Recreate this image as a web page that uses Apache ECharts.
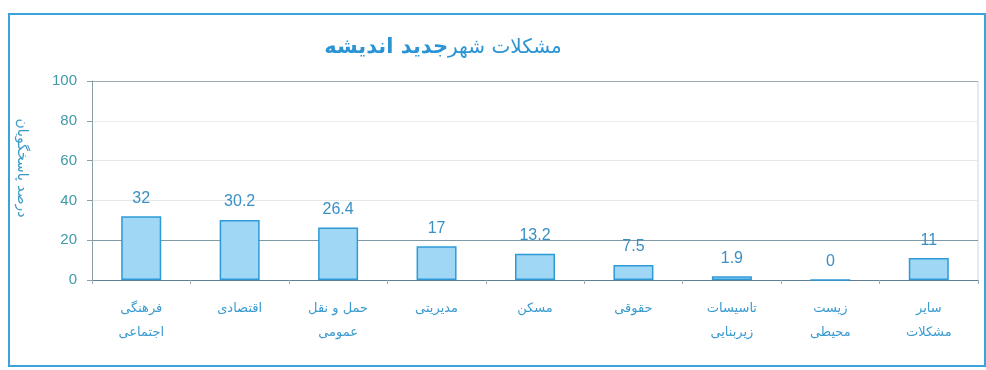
<!DOCTYPE html>
<html><head><meta charset="utf-8">
<script src="https://cdn.jsdelivr.net/npm/echarts@6/dist/echarts.min.js"></script>
<style>html,body{margin:0;padding:0;background:#fff}#c{width:986px;height:370px}</style>
</head><body><div id="c"></div>
<script>
const categories = ["فرهنگی\nاجتماعی","اقتصادی","حمل و نقل\nعمومی","مدیریتی","مسکن","حقوقی","تاسیسات\nزیربنایی","زیست\nمحیطی","سایر\nمشکلات"];
const values = [32, 30.2, 26.4, 17, 13.2, 7.5, 1.9, 0, 11];
const yTicks = [0, 20, 40, 60, 80, 100];
const titleBold = "جدید اندیشه";
const titleNormal = "مشکلات شهر";
const yName = "درصد پاسخگویان";

const chart = echarts.init(document.getElementById('c'), null, {renderer:'canvas'});
const font = "'DejaVu Sans', sans-serif";
chart.setOption({
  animation: false,
  title: {
    text: '{b|' + titleBold + '}{n|' + titleNormal + '}',
    left: 438, top: 32, textAlign: 'center',
    textStyle: {
      rich: {
        b: {fontSize: 21, fontWeight: 'bold', color: '#2b94d4', fontFamily: font},
        n: {fontSize: 20, fontWeight: 'normal', color: '#2b94d4', fontFamily: font}
      }
    }
  },
  graphic: [
    {type:'rect', shape:{x:9, y:14, width:976, height:352}, style:{fill:'none', stroke:'#3aa3dc', lineWidth:2}, z:-1},
    {type:'line', shape:{x1:978, y1:81, x2:978, y2:280}, style:{stroke:'#c9d6dc', lineWidth:1}},
    {type:'text', x:22, y:168, rotation: -Math.PI/2, style:{text: yName, fill:'#3a9bc8', font:'14px ' + font, align:'center', verticalAlign:'middle'}}
  ],
  grid: {left: 92, right: 8, top: 81, bottom: 90, containLabel: false},
  xAxis: {
    type: 'category', data: categories,
    axisLine: {lineStyle: {color: '#5f7f90', width: 1}},
    axisTick: {show: true, length: 4, lineStyle: {color: '#9aaab2'}},
    axisLabel: {color: '#3a9bd0', fontSize: 13, lineHeight: 24, margin: 17, fontFamily: font}
  },
  yAxis: {
    type: 'value', min: 0, max: 100, interval: 20,
    axisLine: {show: true, lineStyle: {color: '#8a9ea8'}},
    axisTick: {show: true, length: 5, lineStyle: {color: '#8a9ea8'}},
    axisLabel: {color: '#3f9aaa', fontSize: 15, margin: 15, fontFamily: "'Liberation Sans', Arial, sans-serif"},
    splitLine: {show: true, lineStyle: {color: ['#5f7f90', '#7f9aa6', '#e3e8ea', '#e3e8ea', '#e8eced', '#9aacb4'], width: 1}}
  },
  series: [{
    type: 'bar', data: values, barWidth: 40,
    itemStyle: {color: '#9fd7f5', borderColor: '#2f9ad8', borderWidth: 1.5},
    label: {show: true, position: 'top', distance: 10, color: '#3a8fc4', fontSize: 16, fontFamily: "'Liberation Sans', Arial, sans-serif"}
  }]
});
</script></body></html>
